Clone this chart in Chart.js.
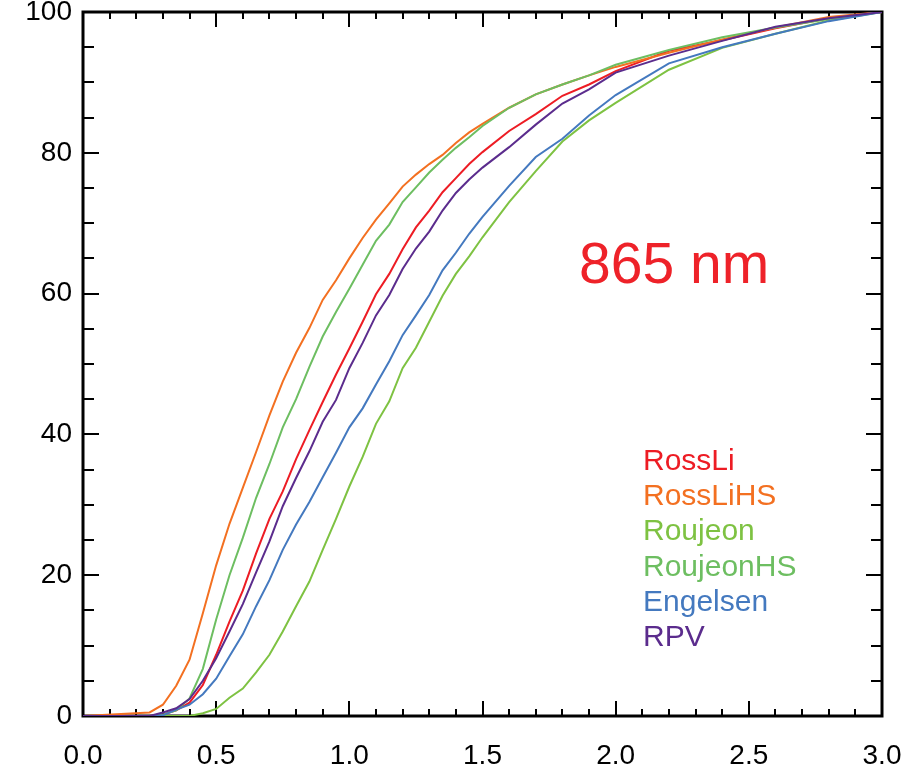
<!DOCTYPE html>
<html>
<head>
<meta charset="utf-8">
<script src="https://cdn.jsdelivr.net/npm/chart.js@4.4.1/dist/chart.umd.min.js"></script>
<style>
  html, body { margin: 0; padding: 0; background: #fff; }
  #wrap { width: 917px; height: 766px; }
</style>
</head>
<body>
<div id="wrap"><canvas id="grafico"></canvas></div>
<script>
// valori (percentuale cumulata)
const xs = [0, 0.25, 0.30, 0.35, 0.40, 0.45, 0.50, 0.55, 0.60, 0.65, 0.70, 0.75, 0.80, 0.85, 0.90, 0.95,
  1.00, 1.05, 1.10, 1.15, 1.20, 1.25, 1.30, 1.35, 1.40, 1.45, 1.50, 1.60, 1.70, 1.80, 1.90, 2.00,
  2.20, 2.40, 2.60, 2.80, 3.00];

const rossLi = [0, 0, 0.2, 0.8, 1.9, 4.4, 8.7, 13.4, 17.8, 23.1, 28.0, 31.9, 36.5, 40.6, 44.6, 48.5,
  52.2, 56.0, 59.9, 62.8, 66.3, 69.4, 71.8, 74.4, 76.4, 78.4, 80.1, 83.1, 85.5, 88.1, 89.7, 91.6,
  94.5, 96.0, 97.7, 99.1, 100];
const rossLiHS = [0, 0.5, 1.6, 4.3, 8.0, 14.6, 21.4, 27.3, 32.4, 37.5, 42.7, 47.5, 51.6, 55.1, 59.1, 61.9,
  65.0, 67.9, 70.5, 72.8, 75.2, 76.9, 78.4, 79.7, 81.4, 82.9, 84.1, 86.4, 88.3, 89.7, 91.0, 92.2,
  94.2, 96.1, 97.8, 99.3, 100];
const roujeon = [0, 0, 0, 0, 0, 0.4, 1.0, 2.6, 3.9, 6.2, 8.7, 12.0, 15.6, 19.1, 23.6, 28.0,
  32.6, 36.8, 41.5, 44.7, 49.4, 52.3, 56.0, 59.7, 62.8, 65.3, 68.0, 73.0, 77.4, 81.6, 84.6, 87.1,
  91.8, 94.9, 96.9, 98.8, 100];
const roujeonHS = [0, 0, 0.2, 0.8, 2.5, 6.7, 13.7, 20.0, 25.3, 31.0, 35.8, 41.0, 45.0, 49.6, 53.9, 57.4,
  60.7, 64.1, 67.5, 69.8, 73.0, 75.1, 77.2, 79.0, 80.7, 82.2, 83.8, 86.4, 88.3, 89.7, 91.0, 92.5,
  94.6, 96.4, 97.8, 99.0, 100];
const engelsen = [0, 0, 0.1, 0.9, 1.6, 3.1, 5.3, 8.5, 11.6, 15.6, 19.3, 23.6, 27.2, 30.4, 33.9, 37.4,
  41.0, 43.7, 47.1, 50.4, 54.1, 56.9, 59.8, 63.3, 65.8, 68.5, 70.9, 75.3, 79.4, 82.0, 85.3, 88.2,
  92.7, 95.0, 96.9, 98.7, 100];
const rpv = [0, 0, 0.5, 1.1, 2.4, 5.0, 8.2, 12.0, 15.9, 20.4, 24.8, 29.8, 33.8, 37.6, 41.8, 44.9,
  49.4, 53.0, 56.9, 59.8, 63.5, 66.4, 68.8, 71.8, 74.3, 76.2, 77.9, 80.8, 84.0, 87.0, 89.0, 91.4,
  93.8, 95.9, 97.9, 99.1, 100];

const nomi = ["RossLi", "RossLiHS", "Roujeon", "RoujeonHS", "Engelsen", "RPV"];
const serie = [rossLi, rossLiHS, roujeon, roujeonHS, engelsen, rpv];
const colori = ["#ED1C24", "#F37021", "#7EC242", "#6DBE61", "#4479BF", "#5B2C8D"];
const etichetta = "865 nm";

const datasets = serie.map(function (valori, i) {
  return {
    label: nomi[i],
    data: xs.map(function (x, j) { return { x: x, y: valori[j] }; }),
    borderColor: colori[i],
    backgroundColor: colori[i],
    borderWidth: 2,
    pointRadius: 0,
    tension: 0,
    fill: false,
    order: serie.length - i,
  };
});

// cornice con tacche verso l'interno
const cornice = {
  id: "cornice",
  beforeDatasetsDraw(chart) {
    const ctx = chart.ctx;
    const a = chart.chartArea;
    const sx = chart.scales.x;
    const sy = chart.scales.y;
    ctx.save();
    ctx.strokeStyle = "#000";
    ctx.lineWidth = 2;
    ctx.beginPath();
    for (let i = 0; i <= 30; i++) {
      const px = Math.round(sx.getPixelForValue(i / 10));
      const len = i % 5 === 0 ? 15 : 7;
      ctx.moveTo(px, a.bottom); ctx.lineTo(px, a.bottom - len);
      ctx.moveTo(px, a.top); ctx.lineTo(px, a.top + len);
    }
    for (let i = 0; i <= 20; i++) {
      const py = Math.round(sy.getPixelForValue(i * 5));
      const len = i % 4 === 0 ? 16 : 11;
      ctx.moveTo(a.left, py); ctx.lineTo(a.left + len, py);
      ctx.moveTo(a.right, py); ctx.lineTo(a.right - len, py);
    }
    ctx.stroke();
    ctx.lineWidth = 3;
    ctx.strokeRect(a.left, a.top, a.right - a.left, a.bottom - a.top);
    ctx.restore();
  },
  afterDraw(chart) {
    const ctx = chart.ctx;
    const a = chart.chartArea;
    ctx.save();
    ctx.textAlign = "left";
    ctx.textBaseline = "alphabetic";
    ctx.fillStyle = "#EE2229";
    ctx.font = "57px 'Liberation Sans', Arial, sans-serif";
    ctx.fillText(etichetta, a.left + 496, a.top + 271);
    ctx.font = "30px 'Liberation Sans', Arial, sans-serif";
    nomi.forEach(function (n, i) {
      ctx.fillStyle = colori[i];
      ctx.fillText(n, a.left + 560, a.top + 458 + i * 35.2);
    });
    ctx.restore();
  },
};

const config = {
  type: "line",
  data: { datasets: datasets },
  options: {
    responsive: false,
    animation: false,
    layout: { padding: { top: 12, right: 35, left: 0, bottom: 0 } },
    plugins: {
      legend: { display: false },
      tooltip: { enabled: false },
    },
    scales: {
      x: {
        type: "linear",
        min: 0,
        max: 3,
        grid: { display: false, drawTicks: false },
        border: { display: false },
        ticks: {
          stepSize: 0.5,
          padding: 23,
          color: "#000",
          font: { family: "'Liberation Sans', Arial, sans-serif", size: 28 },
          maxRotation: 0,
          callback: function (v) { return v.toFixed(1); },
        },
        afterFit: function (s) { s.height = 50; s.paddingLeft = 0; s.paddingRight = 0; },
      },
      y: {
        min: 0,
        max: 100,
        grid: { display: false, drawTicks: false },
        border: { display: false },
        ticks: {
          stepSize: 20,
          padding: 11,
          color: "#000",
          font: { family: "'Liberation Sans', Arial, sans-serif", size: 28 },
        },
        afterFit: function (s) { s.width = 83; s.paddingTop = 0; s.paddingBottom = 0; },
      },
    },
  },
  plugins: [cornice],
};

const canvas = document.getElementById("grafico");
canvas.width = 917;
canvas.height = 766;
const grafico = new Chart(canvas, config);
</script>
</body>
</html>
